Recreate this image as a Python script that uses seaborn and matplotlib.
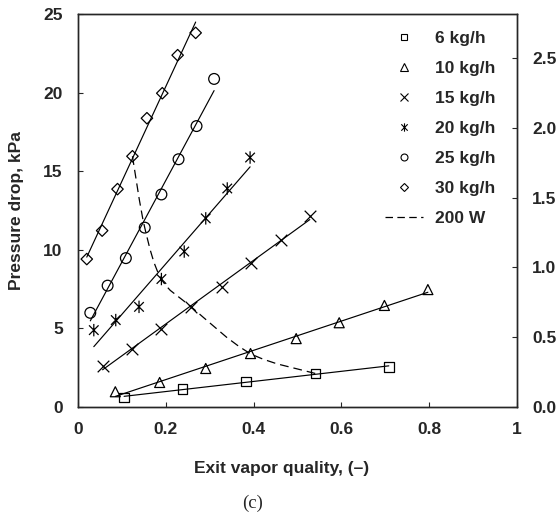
import numpy as np
import pandas as pd
import matplotlib
matplotlib.use("Agg")
import matplotlib.pyplot as plt
from matplotlib.lines import Line2D
from matplotlib.path import Path
from matplotlib.patches import PathPatch
import seaborn as sns

# Measured pressure drop (kPa) vs exit vapor quality for each mass flow rate
x_6 = [0.105, 0.238, 0.382, 0.541, 0.708]
y_6 = [0.61, 1.14, 1.62, 2.13, 2.55]
x_10 = [0.085, 0.186, 0.291, 0.393, 0.497, 0.595, 0.698, 0.797]
y_10 = [0.97, 1.56, 2.45, 3.40, 4.35, 5.36, 6.46, 7.47]
x_15 = [0.056, 0.122, 0.190, 0.258, 0.327, 0.395, 0.463, 0.528]
y_15 = [2.62, 3.71, 4.94, 6.37, 7.64, 9.16, 10.63, 12.15]
x_20 = [0.036, 0.086, 0.139, 0.190, 0.242, 0.291, 0.340, 0.392]
y_20 = [4.89, 5.53, 6.37, 8.14, 9.89, 12.0, 13.9, 15.87]
x_25 = [0.028, 0.0675, 0.109, 0.152, 0.190, 0.229, 0.270, 0.310]
y_25 = [5.99, 7.72, 9.47, 11.41, 13.52, 15.76, 17.87, 20.87]
x_30 = [0.020, 0.055, 0.090, 0.124, 0.157, 0.192, 0.227, 0.268]
y_30 = [9.41, 11.22, 13.86, 15.95, 18.37, 19.96, 22.38, 23.8]

# Constant heat input (200 W) points, one per flow rate
x_200w = [0.124, 0.152, 0.190, 0.258, 0.393, 0.541]
y_200w = [15.95, 11.41, 8.14, 6.37, 3.40, 2.13]

series_labels = ["6 kg/h", "10 kg/h", "15 kg/h", "20 kg/h", "25 kg/h", "30 kg/h"]
xs = [x_6, x_10, x_15, x_20, x_25, x_30]
ys = [y_6, y_10, y_15, y_20, y_25, y_30]

x_ticks = [0, 0.2, 0.4, 0.6, 0.8, 1.0]
x_ticklabels = ["0", "0.2", "0.4", "0.6", "0.8", "1"]
y_ticks = [0, 5, 10, 15, 20, 25]
y2_ticks = [0.0, 0.5, 1.0, 1.5, 2.0, 2.5]

df = pd.concat(
    [pd.DataFrame({"series": lab, "quality": x, "dp": y})
     for lab, x, y in zip(series_labels, xs, ys)],
    ignore_index=True,
)

# Asterisk: an X with a vertical stroke
star_path = Path(
    [(-1, -1), (1, 1), (-1, 1), (1, -1), (0, -1.3), (0, 1.3)],
    [Path.MOVETO, Path.LINETO, Path.MOVETO, Path.LINETO, Path.MOVETO, Path.LINETO],
)
markers = {"6 kg/h": "s", "10 kg/h": "^", "15 kg/h": "x",
           "20 kg/h": star_path, "25 kg/h": "o", "30 kg/h": "D"}
marker_size = {"6 kg/h": 48, "10 kg/h": 52, "15 kg/h": 70,
               "20 kg/h": 80, "25 kg/h": 60, "30 kg/h": 34}

sns.set_style("ticks")
plt.rcParams["font.family"] = ["Liberation Sans", "DejaVu Sans"]
plt.rcParams["font.weight"] = "bold"
FS = 12.5

fig = plt.figure(figsize=(5.6, 5.14), dpi=100)
ax = fig.add_axes([78 / 560, 1 - 407 / 514, 439 / 560, 393 / 514])

for lab in series_labels:
    sub = df[df["series"] == lab]
    sns.regplot(data=sub, x="quality", y="dp", ax=ax, ci=None, truncate=True,
                scatter=False, color="black", line_kws={"lw": 0.85})
    m = markers[lab]
    if m == "x":
        sns.scatterplot(data=sub, x="quality", y="dp", ax=ax, marker=m,
                        s=marker_size[lab], color="black", linewidth=0.9,
                        legend=False, zorder=3)
    else:
        sns.scatterplot(data=sub, x="quality", y="dp", ax=ax, marker=m,
                        s=marker_size[lab], facecolor="none", edgecolor="black",
                        linewidth=0.9, legend=False, zorder=3)

# Smooth dashed curve through the 200 W points (Catmull-Rom as cubic Bezier)
pts = np.column_stack([x_200w, y_200w])
verts = [tuple(pts[0])]
codes = [Path.MOVETO]
n = len(pts)
for i in range(n - 1):
    p0 = pts[i - 1] if i > 0 else pts[i]
    p1 = pts[i]
    p2 = pts[i + 1]
    p3 = pts[i + 2] if i + 2 < n else pts[i + 1]
    c1 = p1 + (p2 - p0) / 6.0
    c2 = p2 - (p3 - p1) / 6.0
    verts += [tuple(c1), tuple(c2), tuple(p2)]
    codes += [Path.CURVE4] * 3
ax.add_patch(PathPatch(Path(verts, codes), facecolor="none", edgecolor="black",
                       lw=0.9, linestyle=(0, (7, 4)), zorder=2))

ax.set_xlim(0, 1)
ax.set_ylim(0, 25)
ax.set_xticks(x_ticks)
ax.set_xticklabels(x_ticklabels)
ax.set_yticks(y_ticks)
ax.tick_params(direction="in", length=3.6, width=0.8, labelsize=FS, pad=11)
ax.tick_params(axis="x", pad=11)
for s in ax.spines.values():
    s.set_linewidth(1.0)
    s.set_visible(True)

ax.set_xlabel("Exit vapor quality, (\u2013)", fontsize=FS, fontweight="bold")
ax.xaxis.set_label_coords((282 - 78) / 439, (407 - 468) / 393)
ax.xaxis.label.set_va("center")
ax.set_ylabel("Pressure drop, kPa", fontsize=FS, fontweight="bold")
ax.yaxis.set_label_coords((17 - 78) / 439, 0.5)
ax.yaxis.label.set_va("center")

ax2 = ax.twinx()
ax2.set_ylim(0, 2.815)
ax2.set_yticks(y2_ticks)
ax2.set_yticklabels([f"{v:.1f}" for v in y2_ticks])
ax2.tick_params(direction="in", length=3.6, width=0.8, labelsize=FS, pad=11)
for s in ax2.spines.values():
    s.set_linewidth(1.0)

# Legend: markers only for flow rates, dashed line for 200 W
handles = []
for lab in series_labels:
    m = markers[lab]
    ms = {"s": 4.8, "^": 5.2, "x": 5.2, "o": 5.0, "D": 4.0}.get(m, 6.0) if not isinstance(m, Path) else 6.0
    handles.append(Line2D([], [], ls="none", marker=m, ms=ms, mfc="none",
                          mec="black", mew=0.8))
handles.append(Line2D([], [], color="black", lw=0.9, linestyle=(0, (6, 3.5))))
labels = series_labels + ["200 W"]
leg = ax.legend(handles, labels, loc="upper left",
                bbox_to_anchor=((385 - 78) / 439, (407 - 31) / 393),
                frameon=False, borderpad=0, borderaxespad=0,
                handlelength=2.2, handletextpad=0.7, labelspacing=0.85,
                prop={"size": FS, "weight": "bold"})

fig.text(253 / 560, 1 - 503 / 514, "(c)", ha="center", va="center",
         fontsize=13.5, family=["Liberation Serif", "DejaVu Serif"],
         fontweight="normal")

fig.savefig("out.png", dpi=100)
